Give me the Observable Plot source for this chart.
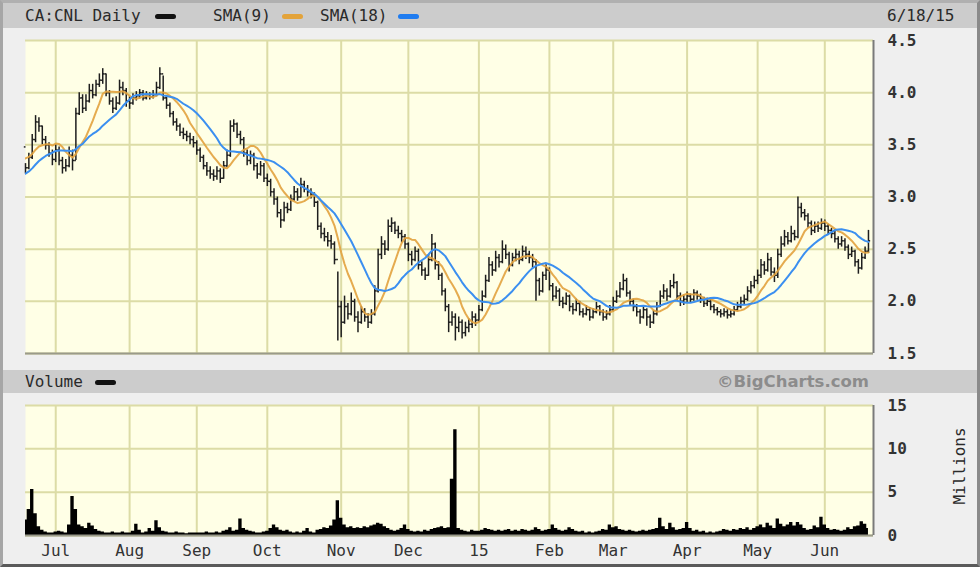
<!DOCTYPE html>
<html>
<head>
<meta charset="utf-8">
<script src="https://cdn.jsdelivr.net/npm/d3@7"></script>
<script src="https://cdn.jsdelivr.net/npm/@observablehq/plot@0.6"></script>
<style>
  html, body { margin: 0; padding: 0; background: #efefef; }
  #wrap { position: relative; width: 980px; height: 567px; background: #efefef; overflow: hidden;
          font-family: "DejaVu Sans Mono", monospace; color: #2a2a2a; box-sizing: border-box;
          border-left: 3px solid #a6a6a6; border-top: 3px solid #b0b0b0; border-bottom: 3px solid #5a5a5a; border-right: 3px solid #8a8a8a; }
  .bar { position: absolute; left: 0; width: 974px; background: #cccccc; }
  .t { position: absolute; font-size: 16px; line-height: 16px; white-space: nowrap; }
  .sw { position: absolute; width: 21px; height: 5px; border-radius: 3px; }
  .plot { position: absolute; left: -3px; width: 983px; }
  .plot svg { max-width: none !important; display: block; }
</style>
</head>
<body>
<div id="wrap">
  <div class="bar" style="top:0;height:25px;"></div>
  <div class="t" style="left:22px;top:5px;">CA:CNL Daily</div>
  <div class="sw" style="left:152px;top:11px;background:#111;"></div>
  <div class="t" style="left:210px;top:5px;">SMA(9)</div>
  <div class="sw" style="left:279px;top:11px;background:#e3a33a;"></div>
  <div class="t" style="left:317px;top:5px;">SMA(18)</div>
  <div class="sw" style="left:395px;top:11px;background:#1f7cf0;"></div>
  <div class="t" style="left:884px;top:5px;">6/18/15</div>

  <div class="bar" style="top:367px;height:23px;"></div>
  <div class="t" style="left:22px;top:371px;">Volume</div>
  <div class="sw" style="left:92px;top:377px;background:#111;"></div>
  <div class="t" style="left:714px;top:371px;font-family:'DejaVu Sans',sans-serif;font-weight:bold;color:#8c8c8c;font-size:16.5px;">©BigCharts.com</div>
  <div class="t" style="left:957px;top:463px;transform:translate(-50%,-50%) rotate(-90deg);">Millions</div>

  <div id="price" class="plot" style="top:27px;"></div>
  <div id="volume" class="plot" style="top:392px;"></div>
</div>
<script>
// ---- data ----
const holidays = ["2014-07-01","2014-08-04","2014-09-01","2014-10-13","2014-12-25","2014-12-26","2015-01-01","2015-02-16","2015-04-03","2015-05-18"];
const monthLabels = ["Jul","Aug","Sep","Oct","Nov","Dec","15","Feb","Mar","Apr","May","Jun"];
const priceTicks = [1.5, 2.0, 2.5, 3.0, 3.5, 4.0, 4.5];
const volumeTicks = [0, 5, 10, 15];
// closes of the 17 sessions before the chart starts (estimated from where the averages begin)
const priorClose = [3.00,3.02,3.05,3.08,3.10,3.08,3.12,3.10,3.15,3.25,3.30,3.35,3.40,3.45,3.42,3.40,3.48];

const close = [
3.28,3.38,3.55,3.72,3.68,3.55,3.50,3.42,3.36,
3.45,3.35,3.28,3.30,3.40,3.35,3.80,3.95,3.85,3.92,4.02,3.98,4.08,4.12,4.18,4.00,3.92,3.85,3.90,4.05,4.02,3.92,
3.90,3.95,3.97,4.00,3.95,3.98,3.96,3.98,4.05,4.18,3.95,3.88,3.80,3.72,3.68,3.62,3.60,3.58,3.55,3.52,
3.45,3.38,3.30,3.25,3.22,3.20,3.25,3.18,3.30,3.40,3.68,3.70,3.60,3.55,3.42,3.35,3.40,3.30,3.22,3.30,3.18,
3.15,3.05,2.98,2.85,2.78,2.90,2.88,2.98,3.05,3.00,3.12,3.08,3.05,3.02,2.95,2.72,2.65,2.62,2.58,2.55,2.40,1.95,
1.80,1.95,1.88,2.00,1.85,1.80,1.90,1.85,1.80,1.88,2.10,2.45,2.55,2.50,2.72,2.75,2.68,2.65,2.62,2.55,
2.45,2.40,2.48,2.35,2.30,2.25,2.40,2.55,2.35,2.25,2.10,1.95,1.80,1.85,1.75,1.80,1.70,1.75,1.78,1.85,1.82,
1.92,2.05,2.20,2.35,2.30,2.42,2.38,2.50,2.45,2.35,2.42,2.45,2.40,2.48,2.45,2.42,2.38,2.20,2.10,2.25,2.30,
2.15,2.05,2.10,2.00,1.98,2.05,1.95,1.92,1.98,1.90,1.88,1.92,1.85,1.90,1.95,1.90,1.85,1.88,1.92,
2.00,2.05,2.12,2.20,2.08,2.00,1.95,1.90,1.85,1.92,1.85,1.80,1.88,1.95,2.05,2.10,2.05,2.15,2.18,2.05,2.00,2.02,
2.05,2.02,2.08,2.05,2.02,1.98,2.00,1.95,1.92,1.90,1.88,1.90,1.87,1.88,1.92,1.95,2.00,2.02,2.10,2.15,2.20,
2.25,2.35,2.30,2.40,2.28,2.25,2.45,2.55,2.62,2.58,2.65,2.62,2.90,2.85,2.82,2.75,2.68,2.72,2.70,2.75,
2.72,2.68,2.65,2.60,2.55,2.58,2.52,2.45,2.48,2.38,2.32,2.42,2.48,2.58
];
const high = [
3.32,3.42,3.60,3.78,3.76,3.68,3.58,3.52,3.45,
3.50,3.48,3.38,3.36,3.48,3.45,3.85,4.00,3.98,3.98,4.08,4.08,4.12,4.18,4.23,4.18,4.02,3.95,3.96,4.12,4.10,4.04,
3.96,3.99,4.01,4.03,4.02,4.01,4.00,4.02,4.10,4.24,4.16,3.97,3.90,3.82,3.75,3.70,3.66,3.63,3.61,3.58,
3.54,3.47,3.40,3.33,3.29,3.26,3.29,3.27,3.34,3.45,3.73,3.74,3.71,3.63,3.57,3.45,3.44,3.42,3.32,3.34,3.32,
3.22,3.17,3.08,3.00,2.88,2.95,2.94,3.02,3.10,3.08,3.18,3.15,3.11,3.08,3.04,2.96,2.75,2.70,2.66,2.63,2.57,2.28,
2.00,2.05,1.98,2.08,2.02,1.90,1.95,1.93,1.88,1.92,2.15,2.50,2.62,2.58,2.78,2.80,2.76,2.72,2.68,2.64,
2.56,2.48,2.52,2.50,2.38,2.32,2.45,2.64,2.56,2.38,2.27,2.12,1.97,1.90,1.88,1.85,1.82,1.80,1.83,1.90,1.88,
1.96,2.10,2.25,2.42,2.38,2.48,2.45,2.58,2.54,2.47,2.46,2.50,2.48,2.53,2.52,2.48,2.45,2.40,2.22,2.28,2.35,
2.32,2.17,2.14,2.12,2.04,2.08,2.06,1.98,2.02,2.00,1.93,1.96,1.94,1.93,1.99,1.96,1.92,1.91,1.96,
2.04,2.10,2.18,2.26,2.22,2.10,2.02,1.97,1.92,1.95,1.93,1.87,1.91,1.99,2.10,2.16,2.12,2.20,2.26,2.19,2.08,2.06,
2.09,2.07,2.11,2.10,2.07,2.04,2.03,2.02,1.97,1.94,1.92,1.93,1.92,1.91,1.95,1.99,2.04,2.06,2.14,2.19,2.24,
2.30,2.40,2.38,2.46,2.42,2.32,2.50,2.62,2.68,2.66,2.72,2.68,3.00,2.94,2.88,2.84,2.77,2.76,2.76,2.79,
2.78,2.74,2.70,2.67,2.62,2.62,2.60,2.54,2.52,2.49,2.40,2.46,2.52,2.68
];
const low = [
3.22,3.26,3.36,3.52,3.62,3.50,3.45,3.38,3.30,
3.33,3.30,3.22,3.24,3.28,3.25,3.35,3.78,3.80,3.82,3.90,3.94,3.96,4.05,4.08,3.96,3.88,3.80,3.83,3.88,3.97,3.86,
3.84,3.88,3.92,3.94,3.92,3.93,3.93,3.94,3.96,4.03,3.92,3.84,3.76,3.68,3.63,3.58,3.55,3.53,3.50,3.47,
3.40,3.33,3.26,3.20,3.17,3.15,3.16,3.13,3.17,3.28,3.38,3.62,3.56,3.50,3.38,3.30,3.31,3.25,3.17,3.20,3.14,
3.10,3.00,2.92,2.80,2.70,2.76,2.84,2.86,2.96,2.96,2.99,3.04,3.00,2.98,2.90,2.68,2.60,2.57,2.52,2.50,2.35,1.62,
1.65,1.78,1.82,1.86,1.80,1.70,1.78,1.80,1.74,1.78,1.86,2.08,2.40,2.44,2.48,2.66,2.64,2.60,2.56,2.50,
2.38,2.34,2.38,2.30,2.24,2.20,2.24,2.38,2.30,2.20,2.05,1.90,1.70,1.76,1.62,1.70,1.64,1.66,1.70,1.74,1.76,
1.80,1.90,2.03,2.18,2.24,2.28,2.32,2.36,2.40,2.28,2.33,2.38,2.35,2.38,2.40,2.36,2.32,2.00,2.05,2.08,2.20,
2.10,2.00,2.02,1.95,1.93,1.96,1.90,1.87,1.90,1.86,1.84,1.86,1.81,1.83,1.88,1.86,1.81,1.82,1.86,
1.90,1.98,2.03,2.10,2.04,1.95,1.90,1.85,1.78,1.83,1.76,1.74,1.78,1.86,1.94,2.02,2.00,2.03,2.12,2.00,1.95,1.96,
1.99,1.98,2.00,2.01,1.98,1.94,1.95,1.91,1.88,1.86,1.84,1.85,1.83,1.84,1.86,1.90,1.93,1.97,2.00,2.07,2.12,
2.16,2.22,2.25,2.28,2.24,2.18,2.22,2.42,2.52,2.54,2.56,2.58,2.60,2.80,2.77,2.70,2.63,2.65,2.66,2.68,
2.67,2.63,2.60,2.56,2.50,2.52,2.48,2.40,2.42,2.33,2.26,2.30,2.40,2.46
];
const volume = [ // millions
1.8,3.0,5.3,2.5,1.0,0.6,0.4,0.3,0.3,
0.4,0.5,0.4,0.3,1.2,4.5,3.0,1.2,1.0,0.8,1.4,1.1,0.7,0.5,0.4,0.3,0.3,0.4,0.3,0.3,0.4,0.3,
0.3,0.5,1.3,0.6,0.3,0.4,0.8,0.5,1.7,0.9,0.5,0.4,0.3,0.3,0.4,0.3,0.3,0.2,0.3,0.3,
0.3,0.3,0.3,0.4,0.3,0.3,0.4,0.3,0.5,0.6,0.9,0.5,0.6,1.9,0.8,0.6,0.5,0.4,0.3,0.3,0.4,
0.5,0.8,1.2,0.9,0.6,0.5,0.6,0.4,0.3,0.4,0.3,0.5,0.8,0.4,0.3,0.6,0.7,0.9,0.8,1.1,1.8,4.0,
2.0,1.2,0.9,1.0,0.8,0.9,0.8,1.0,0.9,1.1,1.2,1.4,1.3,1.0,0.8,0.6,0.5,0.6,0.8,1.2,
0.7,0.5,0.4,0.5,0.4,0.6,0.5,0.7,0.8,0.9,1.0,0.8,0.9,6.5,12.2,0.8,0.6,0.5,0.4,0.6,0.5,
0.5,0.6,0.8,0.7,0.6,0.5,0.6,0.5,0.6,0.7,0.5,0.6,0.5,0.7,0.6,0.5,0.6,0.9,0.7,0.5,0.6,
0.7,1.2,0.8,0.6,0.5,0.6,0.9,0.7,0.5,0.4,0.5,0.3,0.4,0.3,0.4,0.5,0.7,0.6,1.2,
0.9,1.0,0.7,0.6,0.5,0.6,0.5,0.4,0.5,0.6,0.5,0.6,0.7,0.8,2.0,1.0,0.7,1.4,0.9,0.6,0.7,0.8,
1.5,0.8,0.5,0.6,0.4,0.5,0.3,0.4,0.3,0.4,0.5,0.7,0.6,0.5,0.7,0.6,0.8,0.7,0.9,0.6,0.8,
1.0,1.2,0.9,1.4,1.1,0.8,1.9,1.3,1.0,1.2,1.5,1.1,1.5,1.2,0.8,0.6,0.7,1.1,0.9,2.1,
1.2,0.8,0.6,0.7,0.6,0.5,0.6,0.9,0.7,1.0,1.1,1.6,1.3,0.8
];

// ---- trading calendar (TSX) ----
const days = d3.utcDay.range(new Date(Date.UTC(2014,5,18)), new Date(Date.UTC(2015,5,19)))
  .filter(d => d.getUTCDay() !== 0 && d.getUTCDay() !== 6 && !holidays.includes(d.toISOString().slice(0,10)));
const n = Math.min(days.length, close.length);
const data = d3.range(n).map(i => ({
  i, date: days[i], close: close[i], high: high[i], low: low[i],
  open: i > 0 ? close[i-1] : priorClose[priorClose.length - 1], volume: volume[i]
}));
// full close series including the warm-up sessions, for the moving averages
const smaSeries = priorClose.map((c, k) => ({i: k - priorClose.length, close: c})).concat(data.map(d => ({i: d.i, close: d.close})));
const monthStarts = d3.range(1, days.length).filter(i => days[i].getUTCMonth() !== days[i-1].getUTCMonth());
const monthLabel = new Map(monthStarts.map((m, k) => [m, monthLabels[k]]));

const W = 983, ML = 25, MR = W - 873;
const xDomain = [0, 252.5];
const grid = "#dcdca6";
const ink = "#1e1e1e";
const styleBase = {fontFamily: "'DejaVu Sans Mono', monospace", fontSize: "16px", color: "#2a2a2a", background: "transparent", overflow: "visible"};

const price = Plot.plot({
  width: W, height: 330, marginTop: 10, marginBottom: 7, marginLeft: ML, marginRight: MR,
  style: styleBase,
  x: {domain: xDomain, axis: null},
  y: {domain: [1.5, 4.5], axis: null},
  marks: [
    Plot.frame({fill: "#ffffe6", stroke: null}),
    Plot.gridY(priceTicks, {stroke: grid, strokeOpacity: 1, strokeWidth: 2}),
    Plot.gridX(monthStarts, {stroke: grid, strokeOpacity: 1, strokeWidth: 2}),
    Plot.ruleX(data, {x: "i", y1: "low", y2: "high", stroke: ink, strokeWidth: 1.5}),
    Plot.link(data, {x1: d => d.i - 0.5, x2: "i", y1: "open", y2: "open", stroke: ink, strokeWidth: 1.5}),
    Plot.link(data, {x1: "i", x2: d => d.i + 0.5, y1: "close", y2: "close", stroke: ink, strokeWidth: 1.5}),
    Plot.lineY(smaSeries, Plot.windowY({k: 9, anchor: "end"}, {x: "i", y: "close", stroke: "#e2a23e", strokeWidth: 2, strokeOpacity: 0.9, clip: true})),
    Plot.lineY(smaSeries, Plot.windowY({k: 18, anchor: "end"}, {x: "i", y: "close", stroke: "#3b8ff0", strokeWidth: 2, clip: true})),
    Plot.ruleY([1.5], {stroke: "#9a9a8a", strokeWidth: 2}),
    Plot.ruleX([xDomain[1]], {stroke: "#7a7a7a", strokeWidth: 2}),
    Plot.axisY(priceTicks, {anchor: "right", label: null, tickSize: 0, tickPadding: 14, tickFormat: d => d.toFixed(1), fontWeight: "bold", fill: "#333"})
  ]
});
document.getElementById("price").appendChild(price);

const vol = Plot.plot({
  width: W, height: 172, marginTop: 10, marginBottom: 32, marginLeft: ML, marginRight: MR,
  style: styleBase,
  x: {domain: xDomain, axis: null},
  y: {domain: [0, 15], axis: null},
  marks: [
    Plot.frame({fill: "#ffffe6", stroke: null}),
    Plot.gridY(volumeTicks, {stroke: grid, strokeOpacity: 1, strokeWidth: 2}),
    Plot.gridX(monthStarts, {stroke: grid, strokeOpacity: 1, strokeWidth: 2}),
    Plot.areaY(data, {x: "i", y: "volume", fill: "#000", curve: "step"}),
    Plot.ruleY([0], {stroke: "#9a9a8a", strokeWidth: 2}),
    Plot.ruleX([xDomain[1]], {stroke: "#7a7a7a", strokeWidth: 2}),
    Plot.axisY(volumeTicks, {anchor: "right", label: null, tickSize: 0, tickPadding: 14, fontWeight: "bold", fill: "#333"}),
    Plot.axisX(monthStarts, {anchor: "bottom", label: null, tickSize: 0, tickPadding: 9, tickFormat: d => monthLabel.get(d), fill: "#333"})
  ]
});
document.getElementById("volume").appendChild(vol);
</script>
</body>
</html>
